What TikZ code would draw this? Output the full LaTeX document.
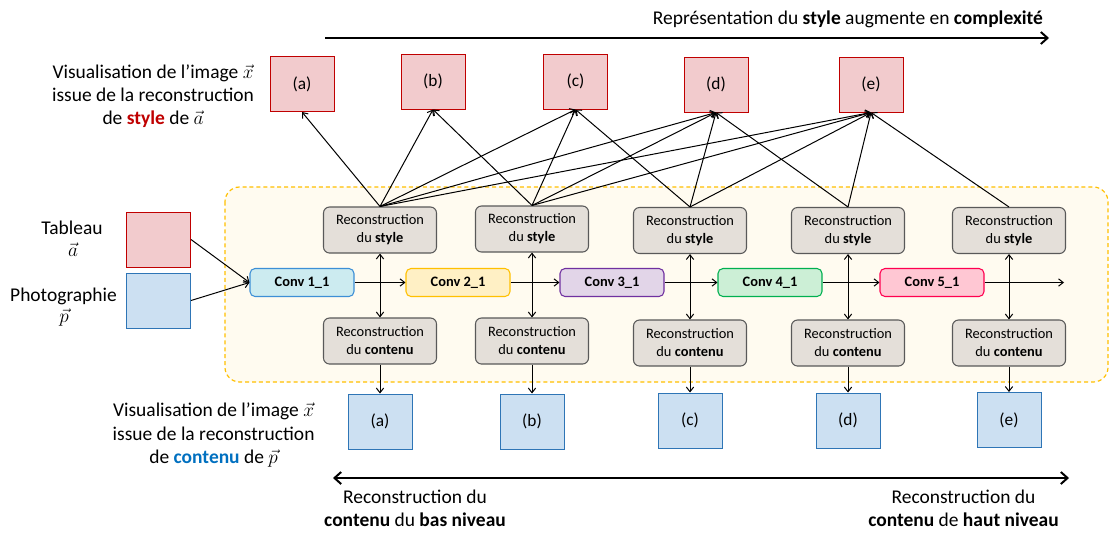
\documentclass[tikz,border=0pt]{standalone}
\usepackage{fontspec}
\setmainfont{Carlito}
\usetikzlibrary{arrows.meta}
\definecolor{regfill}{HTML}{FFFBF0}
\definecolor{regline}{HTML}{FFC000}
\definecolor{grayfill}{HTML}{E4DFD9}
\definecolor{grayline}{HTML}{595959}
\definecolor{redfill}{HTML}{F2CBCD}
\definecolor{redline}{HTML}{C00000}
\definecolor{bluefill}{HTML}{CCE0F2}
\definecolor{blueline}{HTML}{2E75B6}
\definecolor{cafill}{HTML}{CCEBF0}\definecolor{caline}{HTML}{3D8FD6}
\definecolor{cbfill}{HTML}{FFF0C5}\definecolor{cbline}{HTML}{FFC000}
\definecolor{ccfill}{HTML}{E2D5E8}\definecolor{ccline}{HTML}{7030A0}
\definecolor{cdfill}{HTML}{CCEFD6}\definecolor{cdline}{HTML}{00B050}
\definecolor{cefill}{HTML}{FFC7D3}\definecolor{celine}{HTML}{FF0050}
\definecolor{txtred}{HTML}{C00000}
\definecolor{txtblue}{HTML}{0070C0}
\newcommand{\bigtxt}{\fontsize{14.6pt}{17.4pt}\selectfont}
\newcommand{\boxtxt}{\fontsize{10.8pt}{13.5pt}\selectfont}
\tikzset{
  recbox/.style={draw=grayline, fill=grayfill, line width=0.8pt, rounded corners=4.5pt,
    minimum width=84.75pt, minimum height=34.5pt, inner sep=0pt, align=center, font=\boxtxt},
  convbox/.style={line width=0.8pt, rounded corners=3.75pt,
    minimum width=78pt, minimum height=21pt, inner sep=0pt, font=\boxtxt\bfseries},
  redimg/.style={draw=redline, fill=redfill, line width=0.75pt,
    minimum width=48pt, minimum height=41.25pt, inner sep=0pt, font=\fontsize{13pt}{15pt}\selectfont},
  blueimg/.style={draw=blueline, fill=bluefill, line width=0.75pt,
    minimum width=48pt, minimum height=41.25pt, inner sep=0pt, font=\fontsize{13pt}{15pt}\selectfont},
  bigtext/.style={inner sep=0pt, align=center, font=\bigtxt},
  thinarrow/.style={line width=0.75pt, -{Straight Barb[length=3.5pt,width=5.5pt]}},
  dblarrow/.style={line width=0.75pt, {Straight Barb[length=3.5pt,width=5.5pt]}-{Straight Barb[length=3.5pt,width=5.5pt]}},
  thickarrow/.style={line width=1.5pt, -{Straight Barb[length=5pt,width=9pt]}},
  thickdbl/.style={line width=1.5pt, {Straight Barb[length=5pt,width=9pt]}-{Straight Barb[length=5pt,width=9pt]}},
}
\begin{document}
\begin{tikzpicture}[x=0.75pt,y=-0.75pt]
\useasboundingbox (0,0) rectangle (1120,547);
\fill[white] (0,0) rectangle (1120,547);

% region
\draw[regline, fill=regfill, line width=0.9pt, dash pattern=on 3pt off 2.2pt, rounded corners=11pt]
  (225,187) rectangle (1108,382);

% title and arrow
\node[bigtext] (title) at (848,19) {Représentation du \textbf{style} augmente en \textbf{complexité}};
\coordinate (tl) at (325,38);
\coordinate (tr) at (1049,38);
\draw[thickarrow] (tl) -- (tr);

% top-left text
\node[bigtext] (toplbl) at (153,96) {Visualisation de l’image $\vec{x}$\\issue de la reconstruction\\de \textbf{\color{txtred}style} de $\vec{a}$};

% input labels
\node[bigtext] (tab) at (72,228) {Tableau};
\node[bigtext] (veca) at (73,250) {$\vec{a}$};
\node[bigtext] (photo) at (63.5,296) {Photographie};
\node[bigtext] (vecp) at (64,318) {$\vec{p}$};

% input images
\node[redimg] (inR) at (158.5,239.5) {};
\node[blueimg] (inB) at (158.5,300.5) {};

% top images
\node[redimg] (Ta) at (302,84) {(a)};
\node[redimg] (Tb) at (433,81.5) {(b)};
\node[redimg] (Tc) at (575.5,81.5) {(c)};
\node[redimg] (Td) at (716,84.5) {(d)};
\node[redimg] (Te) at (871,84.5) {(e)};

% style boxes
\node[recbox] (S1) at (380,230) {Reconstruction\\du \textbf{style}};
\node[recbox] (S2) at (532,229) {Reconstruction\\du \textbf{style}};
\node[recbox] (S3) at (690,230.5) {Reconstruction\\du \textbf{style}};
\node[recbox] (S4) at (848,230.5) {Reconstruction\\du \textbf{style}};
\node[recbox] (S5) at (1009,230.5) {Reconstruction\\du \textbf{style}};

% content boxes
\node[recbox] (C1) at (380,341) {Reconstruction\\du \textbf{contenu}};
\node[recbox] (C2) at (532,341) {Reconstruction\\du \textbf{contenu}};
\node[recbox] (C3) at (690,343) {Reconstruction\\du \textbf{contenu}};
\node[recbox] (C4) at (848,343) {Reconstruction\\du \textbf{contenu}};
\node[recbox] (C5) at (1009,343) {Reconstruction\\du \textbf{contenu}};

% conv boxes
\node[convbox, draw=caline, fill=cafill] (V1) at (302,282.5) {Conv 1\_1};
\node[convbox, draw=cbline, fill=cbfill] (V2) at (458,282.5) {Conv 2\_1};
\node[convbox, draw=ccline, fill=ccfill] (V3) at (612,282.5) {Conv 3\_1};
\node[convbox, draw=cdline, fill=cdfill] (V4) at (770,282.5) {Conv 4\_1};
\node[convbox, draw=celine, fill=cefill] (V5) at (932,282.5) {Conv 5\_1};
\coordinate (Vend) at (1064,282.5);

% bottom images
\node[blueimg] (Ba) at (380,421.5) {(a)};
\node[blueimg] (Bb) at (532,421.5) {(b)};
\node[blueimg] (Bc) at (690,420.5) {(c)};
\node[blueimg] (Bd) at (848,420.5) {(d)};
\node[blueimg] (Be) at (1009,420) {(e)};

% input arrows
\draw[thinarrow] (inR.east) -- (V1.west);
\draw[thinarrow] (inB.east) -- (V1.west);

% conv chain
\draw[thinarrow] (V1.east) -- (V2.west);
\draw[thinarrow] (V2.east) -- (V3.west);
\draw[thinarrow] (V3.east) -- (V4.west);
\draw[thinarrow] (V4.east) -- (V5.west);
\draw[thinarrow] (V5.east) -- (Vend);

% vertical arrows
\foreach \k in {1,...,5}{
  \draw[dblarrow] (S\k.south) -- (C\k.north);
}
\draw[thinarrow] (C1.south) -- (Ba.north);
\draw[thinarrow] (C2.south) -- (Bb.north);
\draw[thinarrow] (C3.south) -- (Bc.north);
\draw[thinarrow] (C4.south) -- (Bd.north);
\draw[thinarrow] (C5.south) -- (Be.north);

% style to images
\draw[thinarrow] (S1.north) -- (Ta.south);
\draw[thinarrow] (S1.north) -- (Tb.south);
\draw[thinarrow] (S1.north) -- (Tc.south);
\draw[thinarrow] (S1.north) -- (Td.south);
\draw[thinarrow] (S1.north) -- (Te.south);
\draw[thinarrow] (S2.north) -- (Tb.south);
\draw[thinarrow] (S2.north) -- (Tc.south);
\draw[thinarrow] (S2.north) -- (Td.south);
\draw[thinarrow] (S2.north) -- (Te.south);
\draw[thinarrow] (S3.north) -- (Tc.south);
\draw[thinarrow] (S3.north) -- (Td.south);
\draw[thinarrow] (S3.north) -- (Te.south);
\draw[thinarrow] (S4.north) -- (Td.south);
\draw[thinarrow] (S4.north) -- (Te.south);
\draw[thinarrow] (S5.north) -- (Te.south);

% bottom-left text
\node[bigtext] (botlbl) at (213.6,435) {Visualisation de l’image $\vec{x}$\\issue de la reconstruction\\de \textbf{\color{txtblue}contenu} de $\vec{p}$};

% bottom arrow and labels
\coordinate (bl) at (333,478);
\coordinate (br) at (1069,478);
\draw[thickdbl] (bl) -- (br);
\node[bigtext] (lowlbl) at (415,508) {Reconstruction du\\\textbf{contenu} du \textbf{bas niveau}};
\node[bigtext] (highlbl) at (963.5,508) {Reconstruction du\\\textbf{contenu} de \textbf{haut niveau}};
\end{tikzpicture}
\end{document}
